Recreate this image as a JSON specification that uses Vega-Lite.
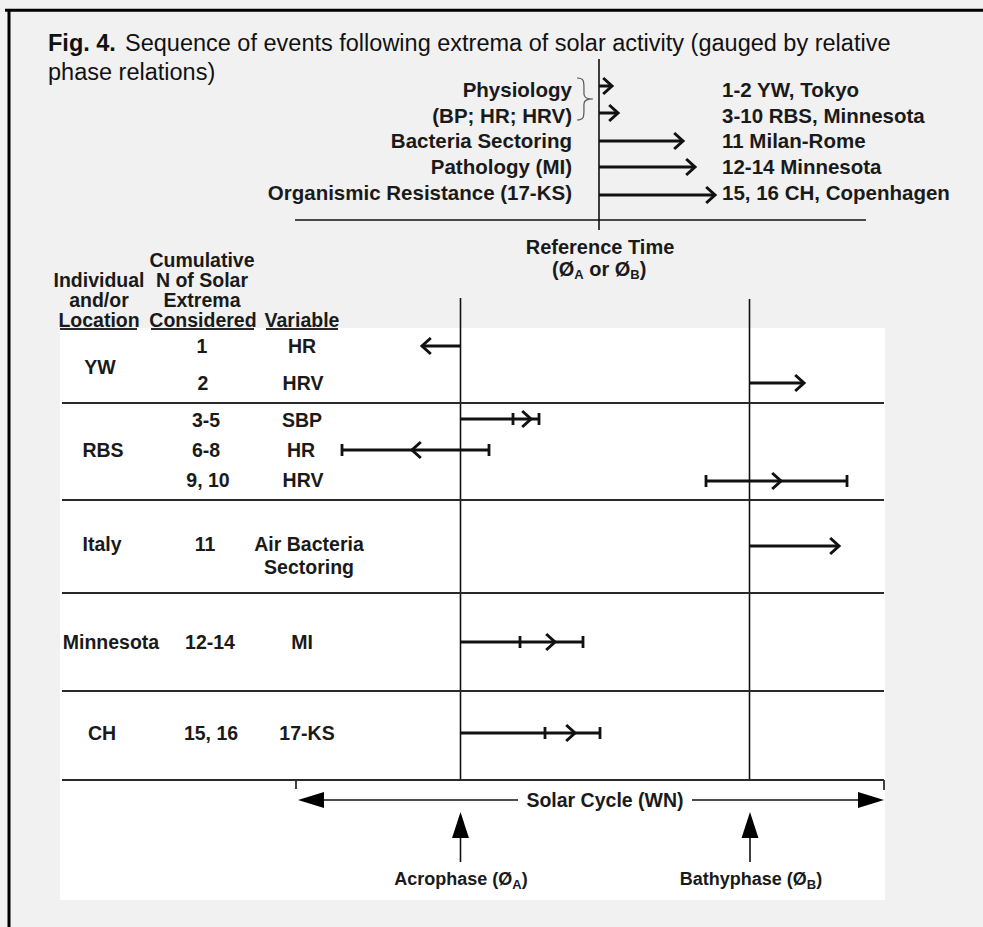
{
  "$schema": "https://vega.github.io/schema/vega-lite/v6.json",
  "usermeta": {"embedOptions": {"actions": false}},
  "width": 983,
  "height": 927,
  "padding": 0,
  "autosize": {"type": "none"},
  "background": "#f1f1f1",
  "config": {"view": {"stroke": null}},
  "datasets": {
    "panel": [{"x": 60, "x2": 885, "y": 328, "y2": 900}],
    "frame": [
      {"x": 5, "x2": 983, "y": 10.3, "y2": 10.3},
      {"x": 9, "x2": 9, "y": 10, "y2": 927}
    ],
    "thin": [
      {"x": 599, "x2": 599, "y": 59, "y2": 230},
      {"x": 295, "x2": 866, "y": 220, "y2": 220},
      {"x": 460.5, "x2": 460.5, "y": 298, "y2": 780},
      {"x": 749.5, "x2": 749.5, "y": 299, "y2": 780},
      {"x": 460.5, "x2": 460.5, "y": 836, "y2": 862},
      {"x": 750, "x2": 750, "y": 836, "y2": 862},
      {"x": 296, "x2": 296, "y": 780, "y2": 789},
      {"x": 884, "x2": 884, "y": 780, "y2": 790},
      {"x": 320, "x2": 518, "y": 800, "y2": 800},
      {"x": 692, "x2": 862, "y": 800, "y2": 800}
    ],
    "sep": [
      {"x": 62, "x2": 884, "y": 403, "y2": 403},
      {"x": 62, "x2": 884, "y": 500, "y2": 500},
      {"x": 62, "x2": 884, "y": 593, "y2": 593},
      {"x": 62, "x2": 884, "y": 691, "y2": 691},
      {"x": 62, "x2": 884, "y": 780, "y2": 780},
      {"x": 60, "x2": 137, "y": 329, "y2": 329},
      {"x": 151, "x2": 254, "y": 329, "y2": 329},
      {"x": 266, "x2": 338, "y": 329, "y2": 329}
    ],
    "shaft": [
      {"x": 599, "x2": 611, "y": 86, "y2": 86},
      {"x": 599, "x2": 617, "y": 113, "y2": 113},
      {"x": 599, "x2": 682, "y": 141, "y2": 141},
      {"x": 599, "x2": 694, "y": 167, "y2": 167},
      {"x": 599, "x2": 714, "y": 195, "y2": 195},
      {"x": 460, "x2": 423, "y": 346, "y2": 346},
      {"x": 749, "x2": 803, "y": 383, "y2": 383},
      {"x": 460, "x2": 539, "y": 419, "y2": 419},
      {"x": 342, "x2": 489, "y": 450, "y2": 450},
      {"x": 706, "x2": 847, "y": 481, "y2": 481},
      {"x": 749, "x2": 838, "y": 546, "y2": 546},
      {"x": 460, "x2": 583, "y": 642, "y2": 642},
      {"x": 460, "x2": 600, "y": 733, "y2": 733}
    ],
    "chevR": [
      {"x": 612, "y": 86}, {"x": 618, "y": 113}, {"x": 683, "y": 141},
      {"x": 695, "y": 167}, {"x": 715, "y": 195}, {"x": 804, "y": 383},
      {"x": 531, "y": 419}, {"x": 781, "y": 481}, {"x": 839, "y": 546},
      {"x": 555, "y": 642}, {"x": 575, "y": 733}
    ],
    "chevL": [{"x": 422, "y": 346}, {"x": 412, "y": 450}],
    "caps": [
      {"x": 513, "y": 419}, {"x": 539, "y": 419}, {"x": 342, "y": 450},
      {"x": 489, "y": 450}, {"x": 706, "y": 481}, {"x": 847, "y": 481},
      {"x": 520, "y": 642}, {"x": 583, "y": 642}, {"x": 545, "y": 733},
      {"x": 600, "y": 733}
    ],
    "triL": [{"x": 298, "y": 800}],
    "triR": [{"x": 884, "y": 800}],
    "triU": [{"x": 460.5, "y": 812}, {"x": 750, "y": 812}],
    "brace": [{"x": 585, "y": 99}],
    "titleBold": [{"x": 48, "y": 44, "t": "Fig. 4."}],
    "titleReg": [
      {"x": 125, "y": 44, "t": "Sequence of events following extrema of solar activity (gauged by relative"},
      {"x": 48, "y": 73, "t": "phase relations)"}
    ],
    "topLeft": [
      {"x": 572, "y": 90.7, "t": "Physiology"},
      {"x": 572, "y": 116.7, "t": "(BP; HR; HRV)"},
      {"x": 572, "y": 142, "t": "Bacteria Sectoring"},
      {"x": 572, "y": 168, "t": "Pathology (MI)"},
      {"x": 572, "y": 194, "t": "Organismic Resistance (17-KS)"}
    ],
    "topRight": [
      {"x": 722, "y": 90.7, "t": "1-2 YW, Tokyo"},
      {"x": 722, "y": 116.7, "t": "3-10 RBS, Minnesota"},
      {"x": 722, "y": 142, "t": "11 Milan-Rome"},
      {"x": 722, "y": 168, "t": "12-14 Minnesota"},
      {"x": 722, "y": 194, "t": "15, 16 CH, Copenhagen"}
    ],
    "center20": [
      {"x": 600, "y": 248, "t": "Reference Time"}
    ],
    "table": [
      {"x": 202, "y": 261, "t": "Cumulative"},
      {"x": 99, "y": 281, "t": "Individual"},
      {"x": 202, "y": 281, "t": "N of Solar"},
      {"x": 99, "y": 301, "t": "and/or"},
      {"x": 202, "y": 301, "t": "Extrema"},
      {"x": 99, "y": 321, "t": "Location"},
      {"x": 203, "y": 321, "t": "Considered"},
      {"x": 302, "y": 321, "t": "Variable"},
      {"x": 100, "y": 368, "t": "YW"},
      {"x": 202, "y": 347, "t": "1"},
      {"x": 302, "y": 347, "t": "HR"},
      {"x": 203, "y": 384, "t": "2"},
      {"x": 303, "y": 384, "t": "HRV"},
      {"x": 206, "y": 421, "t": "3-5"},
      {"x": 302, "y": 421, "t": "SBP"},
      {"x": 103, "y": 451, "t": "RBS"},
      {"x": 206, "y": 451, "t": "6-8"},
      {"x": 301, "y": 451, "t": "HR"},
      {"x": 208, "y": 481, "t": "9, 10"},
      {"x": 303, "y": 481, "t": "HRV"},
      {"x": 102, "y": 545, "t": "Italy"},
      {"x": 205, "y": 545, "t": "11"},
      {"x": 309, "y": 545, "t": "Air Bacteria"},
      {"x": 309, "y": 568, "t": "Sectoring"},
      {"x": 111, "y": 643, "t": "Minnesota"},
      {"x": 210, "y": 643, "t": "12-14"},
      {"x": 302, "y": 643, "t": "MI"},
      {"x": 102, "y": 734, "t": "CH"},
      {"x": 211, "y": 734, "t": "15, 16"},
      {"x": 307, "y": 734, "t": "17-KS"},
      {"x": 605, "y": 801, "t": "Solar Cycle (WN)"}
    ],
    "piece20": [
      {"x": 552, "y": 270, "t": "(Ø"},
      {"x": 589.2, "y": 270, "t": "or Ø"},
      {"x": 639.7, "y": 270, "t": ")"}
    ],
    "piece18": [
      {"x": 394.3, "y": 880, "t": "Acrophase (Ø"},
      {"x": 521.7, "y": 880, "t": ")"},
      {"x": 679.8, "y": 880, "t": "Bathyphase (Ø"},
      {"x": 816.2, "y": 880, "t": ")"}
    ],
    "subs": [
      {"x": 574.2, "y": 275, "t": "A"},
      {"x": 630.3, "y": 275, "t": "B"},
      {"x": 512.3, "y": 885, "t": "A"},
      {"x": 806.8, "y": 885, "t": "B"}
    ]
  },
  "encoding": {
    "x": {"field": "x", "type": "quantitative", "axis": null, "scale": {"domain": [0, 983], "nice": false, "zero": false}},
    "y": {"field": "y", "type": "quantitative", "axis": null, "scale": {"domain": [0, 927], "range": [0, 927], "nice": false, "zero": false}}
  },
  "layer": [
    {"data": {"name": "panel"}, "mark": {"type": "rect", "color": "#ffffff"},
     "encoding": {"x2": {"field": "x2"}, "y2": {"field": "y2"}}},
    {"data": {"name": "frame"}, "mark": {"type": "rule", "color": "#000000", "strokeWidth": 3},
     "encoding": {"x2": {"field": "x2"}, "y2": {"field": "y2"}}},
    {"data": {"name": "thin"}, "mark": {"type": "rule", "color": "#111111", "strokeWidth": 1.6},
     "encoding": {"x2": {"field": "x2"}, "y2": {"field": "y2"}}},
    {"data": {"name": "sep"}, "mark": {"type": "rule", "color": "#2a2a2a", "strokeWidth": 2.2},
     "encoding": {"x2": {"field": "x2"}, "y2": {"field": "y2"}}},
    {"data": {"name": "shaft"}, "mark": {"type": "rule", "color": "#111111", "strokeWidth": 3},
     "encoding": {"x2": {"field": "x2"}, "y2": {"field": "y2"}}},
    {"data": {"name": "chevR"}, "mark": {"type": "point", "shape": "M-1.1,-1L0,0L-1.1,1", "size": 256, "filled": false, "opacity": 1, "color": "#111111", "strokeWidth": 3}},
    {"data": {"name": "chevL"}, "mark": {"type": "point", "shape": "M1.1,-1L0,0L1.1,1", "size": 256, "filled": false, "opacity": 1, "color": "#111111", "strokeWidth": 3}},
    {"data": {"name": "caps"}, "mark": {"type": "point", "shape": "M0,-1L0,1", "size": 144, "filled": false, "opacity": 1, "color": "#111111", "strokeWidth": 2.8}},
    {"data": {"name": "triL"}, "mark": {"type": "point", "shape": "M0,0L2,-0.62L2,0.62Z", "size": 676, "filled": true, "opacity": 1, "color": "#000000", "strokeWidth": 0}},
    {"data": {"name": "triR"}, "mark": {"type": "point", "shape": "M0,0L-2,-0.62L-2,0.62Z", "size": 676, "filled": true, "opacity": 1, "color": "#000000", "strokeWidth": 0}},
    {"data": {"name": "triU"}, "mark": {"type": "point", "shape": "M0,0L-0.65,2L0.65,2Z", "size": 676, "filled": true, "opacity": 1, "color": "#000000", "strokeWidth": 0}},
    {"data": {"name": "brace"}, "mark": {"type": "point", "shape": "M-0.38,-1C-0.05,-1 -0.05,-0.85 -0.05,-0.5L-0.05,-0.25C-0.05,-0.05 0.1,0 0.38,0C0.1,0 -0.05,0.05 -0.05,0.25L-0.05,0.5C-0.05,0.85 -0.05,1 -0.38,1", "size": 1764, "filled": false, "opacity": 1, "color": "#555555", "strokeWidth": 1.2}},
    {"data": {"name": "titleBold"}, "mark": {"type": "text", "align": "left", "baseline": "middle", "font": "Liberation Sans", "fontWeight": "bold", "fontSize": 23.5, "color": "#111111"},
     "encoding": {"text": {"field": "t"}}},
    {"data": {"name": "titleReg"}, "mark": {"type": "text", "align": "left", "baseline": "middle", "font": "Liberation Sans", "fontSize": 23.5, "color": "#111111"},
     "encoding": {"text": {"field": "t"}}},
    {"data": {"name": "topLeft"}, "mark": {"type": "text", "align": "right", "baseline": "middle", "font": "Liberation Sans", "fontWeight": "bold", "fontSize": 20.5, "color": "#1a1a1a"},
     "encoding": {"text": {"field": "t"}}},
    {"data": {"name": "topRight"}, "mark": {"type": "text", "align": "left", "baseline": "middle", "font": "Liberation Sans", "fontWeight": "bold", "fontSize": 20.5, "color": "#1a1a1a"},
     "encoding": {"text": {"field": "t"}}},
    {"data": {"name": "center20"}, "mark": {"type": "text", "align": "center", "baseline": "middle", "font": "Liberation Sans", "fontWeight": "bold", "fontSize": 20, "color": "#1a1a1a"},
     "encoding": {"text": {"field": "t"}}},
    {"data": {"name": "table"}, "mark": {"type": "text", "align": "center", "baseline": "middle", "font": "Liberation Sans", "fontWeight": "bold", "fontSize": 19.5, "color": "#1a1a1a"},
     "encoding": {"text": {"field": "t"}}},
    {"data": {"name": "piece20"}, "mark": {"type": "text", "align": "left", "baseline": "middle", "font": "Liberation Sans", "fontWeight": "bold", "fontSize": 20, "color": "#1a1a1a"},
     "encoding": {"text": {"field": "t"}}},
    {"data": {"name": "piece18"}, "mark": {"type": "text", "align": "left", "baseline": "middle", "font": "Liberation Sans", "fontWeight": "bold", "fontSize": 18, "color": "#1a1a1a"},
     "encoding": {"text": {"field": "t"}}},
    {"data": {"name": "subs"}, "mark": {"type": "text", "align": "left", "baseline": "middle", "font": "Liberation Sans", "fontWeight": "bold", "fontSize": 13, "color": "#1a1a1a"},
     "encoding": {"text": {"field": "t"}}}
  ]
}
